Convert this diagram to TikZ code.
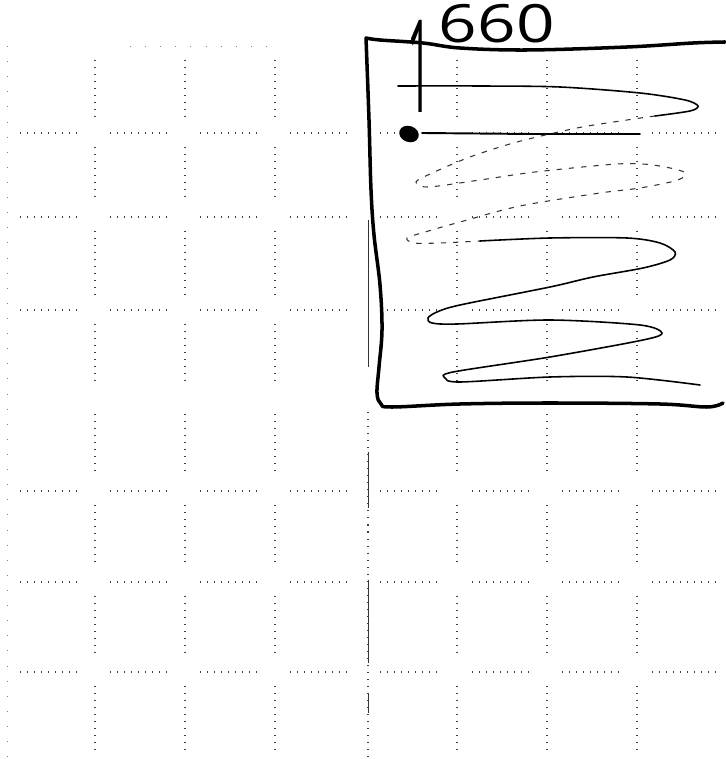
\documentclass[tikz,border=0pt]{standalone}
\usepackage{tikz}
\usepackage{graphicx}
\usepackage{fontspec}
\newfontfamily\handfont{Open Sans}

\begin{document}
\begin{tikzpicture}[
    x=0.02cm, y=-0.02cm,
    griddot/.style={black!75, line width=0.6pt, dash pattern=on 0.6pt off 3.4pt},
    faintdot/.style={black!50, line width=0.5pt, dash pattern=on 0.6pt off 8pt},
    foldline/.style={black!80, line width=0.5pt},
    boxline/.style={line width=2pt, line cap=round, line join=round},
    waveline/.style={line width=0.9pt, line cap=round},
    faintwave/.style={black!80, line width=0.6pt, dash pattern=on 3pt off 4pt}
]

    \useasboundingbox (0,0) rectangle (725,759);

    %------------------------------------------------
    % Dotted paper grid
    %------------------------------------------------

    \foreach \x in {95,185,275,457,547,637}
        \foreach \ya/\yb in {46/133,133/217,217/310,310/400,400/491,491/582,582/672,672/765}
            \draw[griddot] (\x,\ya+14) -- (\x,\yb-14);

    \foreach \y in {133,217,310,491,582,672}
        \foreach \xa/\xb in {5/95,95/185,185/275,275/365,365/457,457/547,547/637,637/735}
            \draw[griddot] (\xa+15,\y) -- (\xb-15,\y);

    \draw[faintdot] (7,46) -- (7,759);
    \draw[faintdot] (130,46) -- (268,46);

    %------------------------------------------------
    % Fold of the sheet
    %------------------------------------------------

    \draw[foldline] (368,220) -- (368,367);
    \draw[foldline] (368,452) -- (368,508);
    \draw[foldline] (368,580) -- (368,663);
    \draw[foldline] (368,693) -- (368,713);
    \draw[griddot] (368,412) -- (368,759);

    %------------------------------------------------
    % Hand drawn frame
    %------------------------------------------------

    \draw[boxline]
        plot[smooth, tension=0.6] coordinates {
            (725,42) (693,43) (627,47) (527,50) (460,48) (423,43) (380,40) (366,38)};

    \draw[boxline]
        plot[smooth, tension=0.6] coordinates {
            (366,38) (369,120) (371,190) (374,235) (380,285) (382,330)
            (379,367) (377,393) (381,404) (392,407) (460,404) (550,403)
            (660,404) (707,407) (723,403)};

    %------------------------------------------------
    % Start point and level
    %------------------------------------------------

    \fill[rotate around={-20:(409,134)}]
        (409,134) ellipse [x radius=0.2cm, y radius=0.16cm];

    \draw[waveline, line width=1.1pt]
        (422,133) -- (530,134) -- (640,134);

    %------------------------------------------------
    % Zigzag
    %------------------------------------------------

    \draw[waveline]
        plot[smooth, tension=0.5] coordinates {
            (398,86) (480,86) (560,87) (640,93) (685,100) (698,106)
            (690,111) (655,116)};

    \draw[faintwave]
        plot[smooth, tension=0.5] coordinates {
            (655,116) (627,120) (577,128) (517,142) (470,157) (430,174)
            (416,182) (428,187) (480,180) (535,172) (617,164) (653,165)
            (684,172) (678,180) (640,188) (600,193) (520,206) (460,222)
            (425,232) (407,238) (414,243) (440,243) (480,241)};

    \draw[waveline]
        plot[smooth, tension=0.5] coordinates {
            (480,241) (550,238) (627,238) (660,243) (675,252) (670,260)
            (643,268) (593,277) (550,287) (460,305) (437,312) (428,318)
            (432,323) (457,324) (550,320) (640,325) (662,333) (643,340)
            (550,357) (453,372) (445,378) (460,382) (550,377) (627,377)
            (700,385)};

    %------------------------------------------------
    % Label
    %------------------------------------------------

    \node[
        anchor=base west,
        inner sep=0pt,
        font=\handfont\fontsize{30}{30}\selectfont
    ]
    (year) at (407,43)
    {\raisebox{-1.4cm}{\scalebox{0.8}[2.45]{1}}\hspace{0.15cm}\scalebox{1.28}[1]{660}};

\end{tikzpicture}
\end{document}
